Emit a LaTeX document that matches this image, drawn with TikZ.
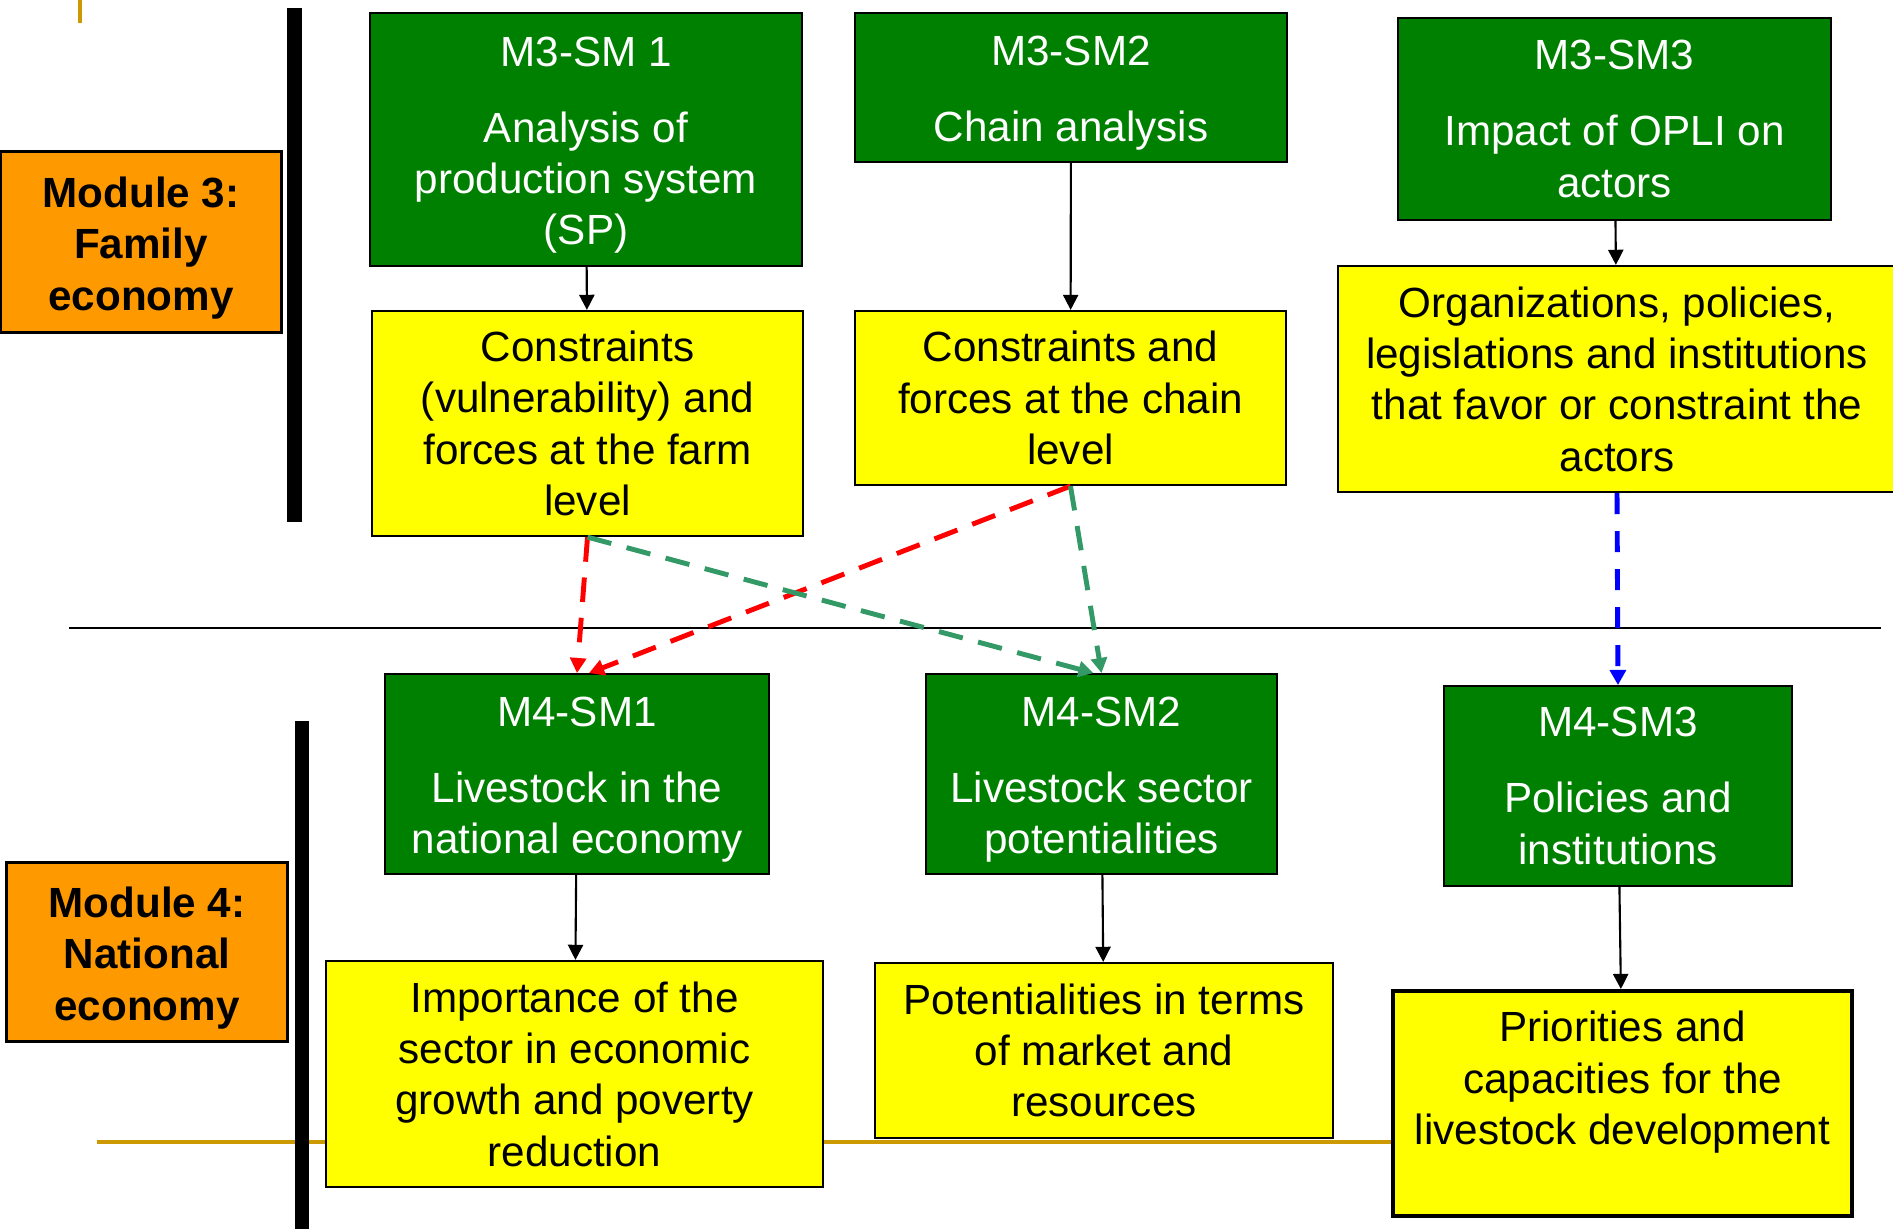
\documentclass[tikz,border=0pt]{standalone}
\usepackage{fontspec}
\setmainfont{Liberation Sans}
\usetikzlibrary{arrows.meta}
\definecolor{boxgreen}{RGB}{0,128,0}
\definecolor{boxyellow}{RGB}{255,255,0}
\definecolor{modorange}{RGB}{255,153,0}
\definecolor{rulegold}{RGB}{204,153,0}
\definecolor{flowgreen}{RGB}{51,153,102}
\newcommand\toppad[1]{\rule{0pt}{#1}}
\tikzset{
  txt/.style={font=\fontsize{12}{14.6}\selectfont, align=center, inner sep=0pt},
  modbox/.style={txt, draw, line width=0.85pt, fill=modorange, font=\bfseries\fontsize{12}{14.6}\selectfont},
  greenbox/.style={txt, draw, line width=0.5pt, fill=boxgreen, text=white},
  yellowbox/.style={txt, draw, line width=0.6pt, fill=boxyellow},
  link/.style={-{Triangle[length=4.3pt,width=4.3pt]}, line width=0.6pt},
  flow/.style={-{Triangle[length=4.3pt,width=4.5pt]}, line width=1.4pt, dash pattern=on 7pt off 4.5pt}
}
\begin{document}
\begin{tikzpicture}[x=0.01cm, y=-0.01cm]
      \useasboundingbox (0,0) rectangle (1893,1229);
      % rules behind the boxes
      \draw[rulegold, line width=1.3pt] (80,0) -- (80,23);
      \draw[rulegold, line width=1.4pt] (97,1142) -- (1393,1142);
      \fill (287,8) rectangle (302,522);
      \fill (295,721) rectangle (309,1229);
      \draw[line width=0.6pt] (69,628) -- (1881,628);
      % module labels
      \node[modbox, minimum width=2.8cm, minimum height=1.8cm] (mod3) at (141,242) {\toppad{12pt}Module 3:\\Family\\economy};
      \node[modbox, minimum width=2.8cm, minimum height=1.78cm] (mod4) at (147,952) {\toppad{12pt}Module 4:\\National\\economy};
      % module 3
      \node[greenbox, minimum width=4.32cm, minimum height=2.53cm] (sm31) at (586,139.5) {\toppad{11.5pt}M3-SM 1\\[7pt]Analysis of\\production system\\(SP)};
      \node[greenbox, minimum width=4.32cm, minimum height=1.49cm] (sm32) at (1071,87.5) {\toppad{11.5pt}M3-SM2\\[7pt]Chain analysis};
      \node[greenbox, minimum width=4.33cm, minimum height=2.02cm] (sm33) at (1614.5,119) {M3-SM3\\[7pt]Impact of OPLI on\\actors};
      \node[yellowbox, minimum width=4.31cm, minimum height=2.25cm] (y31) at (587.5,423.5) {Constraints\\(vulnerability) and\\forces at the farm\\level};
      \node[yellowbox, minimum width=4.31cm, minimum height=1.74cm] (y32) at (1070.5,398) {Constraints and\\forces at the chain\\level};
      \node[yellowbox, minimum width=5.58cm, minimum height=2.26cm] (y33) at (1617,379) {Organizations, policies,\\legislations and institutions\\that favor or constraint the\\actors};
      % module 4
      \node[greenbox, minimum width=3.84cm, minimum height=2cm] (sm41) at (577,774) {\toppad{11.5pt}M4-SM1\\[7pt]Livestock in the\\national economy};
      \node[greenbox, minimum width=3.51cm, minimum height=2cm] (sm42) at (1101.5,774) {\toppad{11.5pt}M4-SM2\\[7pt]Livestock sector\\potentialities};
      \node[greenbox, minimum width=3.48cm, minimum height=2cm] (sm43) at (1618,786) {M4-SM3\\[7pt]Policies and\\institutions};
      \node[yellowbox, minimum width=4.97cm, minimum height=2.26cm] (y41) at (574.5,1074) {Importance of the\\sector in economic\\growth and poverty\\reduction};
      \node[yellowbox, minimum width=4.58cm, minimum height=1.75cm] (y42) at (1104,1050.5) {Potentialities in terms\\of market and\\resources};
      \node[yellowbox, line width=1.1pt, minimum width=4.59cm, minimum height=2.25cm] (y43) at (1622.5,1103.5) {Priorities and\\capacities for the\\livestock development\\\mbox{}};
      % links
      \draw[link] (sm31) -- (y31);
      \draw[link] (sm32) -- (y32);
      \draw[link] (sm33) -- (y33);
      \draw[link] (sm41) -- (y41);
      \draw[link] (sm42) -- (y42);
      \draw[link] (sm43) -- (y43);
      \draw[flow, red] (y31.south) -- (sm41.north);
      \draw[flow, red] (y32.south) -- ([xshift=0.12cm]sm41.north);
      \draw[flow, flowgreen] (y31.south) -- ([xshift=-0.08cm]sm42.north);
      \draw[flow, flowgreen] (y32.south) -- (sm42.north);
      \draw[flow, blue, dash pattern=on 6pt off 4.8pt] (y33.south) -- (sm43.north);
    \end{tikzpicture}
\end{document}
